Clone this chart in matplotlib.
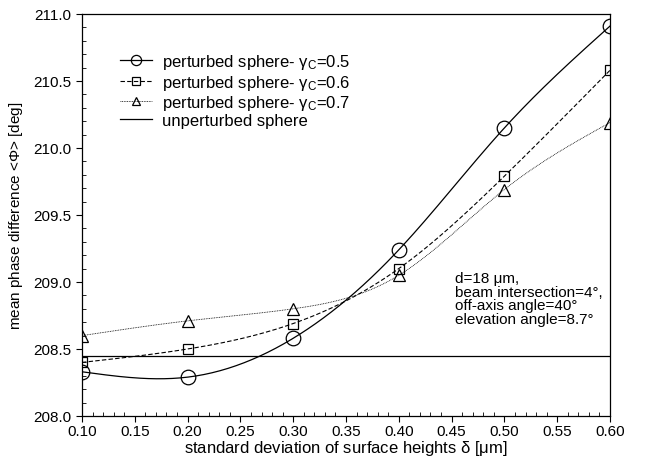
import numpy as np
import matplotlib
matplotlib.use("Agg")
import matplotlib.pyplot as plt
from matplotlib.ticker import MultipleLocator

plt.rcParams['font.family'] = ['Liberation Sans', 'DejaVu Sans']
plt.rcParams['mathtext.fontset'] = 'custom'
plt.rcParams['mathtext.rm'] = 'Liberation Sans'
plt.rcParams['mathtext.it'] = 'Liberation Sans:italic'

# roughness values (um) and mean phase difference (deg)
delta = [0.10, 0.20, 0.30, 0.40, 0.50, 0.60]
phi_g05 = [208.33, 208.29, 208.58, 209.24, 210.15, 210.91]
phi_g06 = [208.40, 208.50, 208.69, 209.10, 209.79, 210.58]
phi_g07 = [208.60, 208.71, 208.80, 209.05, 209.69, 210.19]
phi_unperturbed = 208.45


def spline(x, y, n=200):
    # natural cubic spline, only used to draw a smooth connecting line
    x = np.asarray(x, float)
    y = np.asarray(y, float)
    h = np.diff(x)
    m = len(x)
    A = np.zeros((m, m))
    r = np.zeros(m)
    A[0, 0] = A[-1, -1] = 1
    for i in range(1, m - 1):
        A[i, i - 1] = h[i - 1]
        A[i, i] = 2 * (h[i - 1] + h[i])
        A[i, i + 1] = h[i]
        r[i] = 6 * ((y[i + 1] - y[i]) / h[i] - (y[i] - y[i - 1]) / h[i - 1])
    M = np.linalg.solve(A, r)
    xs = np.linspace(x[0], x[-1], n)
    k = np.clip(np.searchsorted(x, xs) - 1, 0, m - 2)
    t0 = x[k + 1] - xs
    t1 = xs - x[k]
    hk = h[k]
    ys = (M[k] * t0**3 + M[k + 1] * t1**3) / (6 * hk) \
        + (y[k] / hk - M[k] * hk / 6) * t0 + (y[k + 1] / hk - M[k + 1] * hk / 6) * t1
    return xs, ys


fig = plt.figure(figsize=(6.48, 4.60), dpi=100)
ax = fig.add_axes([82 / 648, 43 / 460, 528 / 648, 402 / 460])

series = [
    (phi_g05, 'o', '-', 0.9, 10.5, r'perturbed sphere- $\mathrm{\gamma_C}$=0.5'),
    (phi_g06, 's', (0, (4, 2)), 0.8, 7.5, r'perturbed sphere- $\mathrm{\gamma_C}$=0.6'),
    (phi_g07, '^', (0, (1, 1)), 0.6, 8, r'perturbed sphere- $\mathrm{\gamma_C}$=0.7'),
]
for vals, mk, ls, lw, ms, lab in series:
    xs, ys = spline(delta, vals)
    ax.plot(xs, ys, color='black', ls=ls, lw=lw)
    ax.plot(delta, vals, ls='none', marker=mk, ms=ms, mfc='none', mec='black', mew=0.9)
    ax.plot([], [], color='black', ls=ls, lw=lw, marker=mk, ms=ms * 0.7,
            mfc='none', mec='black', mew=0.9, label=lab)

ax.axhline(phi_unperturbed, color='black', lw=0.9, label='unperturbed sphere')

ax.set_xlim(0.10, 0.60)
ax.set_ylim(208.0, 211.0)
ax.xaxis.set_major_locator(MultipleLocator(0.05))
ax.xaxis.set_minor_locator(MultipleLocator(0.01))
ax.yaxis.set_major_locator(MultipleLocator(0.5))
ax.yaxis.set_minor_locator(MultipleLocator(0.1))
ax.xaxis.set_major_formatter(plt.FormatStrFormatter('%.2f'))
ax.yaxis.set_major_formatter(plt.FormatStrFormatter('%.1f'))
ax.tick_params(which='major', direction='out', length=4, width=0.8, labelsize=11)
ax.tick_params(axis='x', which='major', pad=1.5)
ax.tick_params(which='minor', direction='in', length=3, width=0.6)
for s in ax.spines.values():
    s.set_linewidth(0.9)

ax.set_xlabel(r'standard deviation of surface heights $\mathrm{\delta}$ [$\mathrm{\mu}$m]',
              fontsize=12, labelpad=0)
ax.set_ylabel(r'mean phase difference <$\mathrm{\Phi}$> [deg]', fontsize=11, labelpad=6)

ax.legend(loc='upper left', bbox_to_anchor=(0.072, 0.905), frameon=False, fontsize=12,
          handlelength=1.9, labelspacing=0.08, borderaxespad=0, borderpad=0,
          handletextpad=0.6)

ax.text(0.453, 209.08, 'd=18 \u03bcm,\nbeam intersection=4\u00b0,\noff-axis angle=40\u00b0\nelevation angle=8.7\u00b0',
        fontsize=11, va='top', ha='left', linespacing=0.95)

fig.savefig('out.png', dpi=100)
